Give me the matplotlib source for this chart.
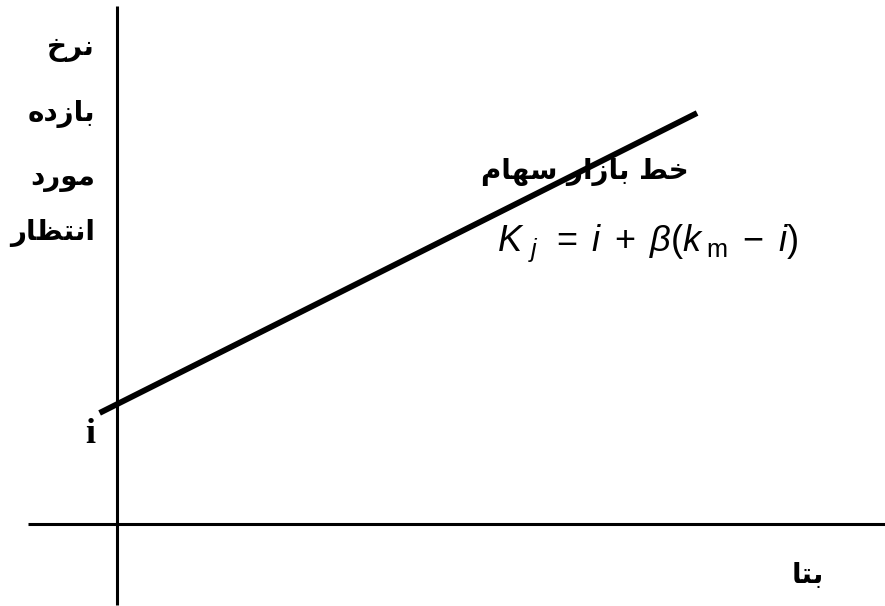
import matplotlib
matplotlib.use("Agg")
import matplotlib.pyplot as plt

# ---- data ----
beta = [-0.03, 1.0]              # beta values of the market line end points
expected_return = [5.58, 20.65]  # expected return at those betas
y_label_lines = ["نرخ", "بازده", "مورد", "انتظار"]
x_label = "بتا"
line_label = "خط بازار سهام"
formula = r"$K_{\;\,j}\;\,=\;i\;+\;\beta(k_{\;\rm m}\;-\;i)$"
intercept_label = "i"

# ---- minimal Arabic/Persian shaping (presentation forms, visual order) ----
FORMS = {  # isolated, final, initial, medial
    "ا": ("\uFE8D", "\uFE8E", None, None),
    "ب": ("\uFE8F", "\uFE90", "\uFE91", "\uFE92"),
    "ت": ("\uFE95", "\uFE96", "\uFE97", "\uFE98"),
    "خ": ("\uFEA5", "\uFEA6", "\uFEA7", "\uFEA8"),
    "د": ("\uFEA9", "\uFEAA", None, None),
    "ر": ("\uFEAD", "\uFEAE", None, None),
    "ز": ("\uFEAF", "\uFEB0", None, None),
    "س": ("\uFEB1", "\uFEB2", "\uFEB3", "\uFEB4"),
    "ط": ("\uFEC1", "\uFEC2", "\uFEC3", "\uFEC4"),
    "ظ": ("\uFEC5", "\uFEC6", "\uFEC7", "\uFEC8"),
    "م": ("\uFEE1", "\uFEE2", "\uFEE3", "\uFEE4"),
    "ن": ("\uFEE5", "\uFEE6", "\uFEE7", "\uFEE8"),
    "ه": ("\uFEE9", "\uFEEA", "\uFEEB", "\uFEEC"),
    "و": ("\uFEED", "\uFEEE", None, None),
}


def shape(text):
    out = []
    chars = list(text)
    for k, c in enumerate(chars):
        if c not in FORMS:
            out.append(c)
            continue
        prev = chars[k - 1] if k > 0 else None
        nxt = chars[k + 1] if k + 1 < len(chars) else None
        join_prev = prev in FORMS and FORMS[prev][2] is not None
        join_next = nxt in FORMS and FORMS[c][2] is not None
        iso, fin, ini, med = FORMS[c]
        if join_prev and join_next:
            out.append(med)
        elif join_prev:
            out.append(fin)
        elif join_next:
            out.append(ini)
        else:
            out.append(iso)
    return "".join(reversed(out))


plt.rcParams["font.family"] = ["DejaVu Sans"]
plt.rcParams["mathtext.fontset"] = "custom"
plt.rcParams["mathtext.it"] = "Liberation Sans:italic"
plt.rcParams["mathtext.rm"] = "Liberation Sans"
plt.rcParams["mathtext.cal"] = "Liberation Sans:italic"

fig = plt.figure(figsize=(8.85, 6.06), dpi=100)
ax = fig.add_axes([0, 0, 1, 1])
ax.set_xlim(-0.2017, 1.324)
ax.set_ylim(-4.12, 26.33)
ax.axis("off")

# axes lines
ax.plot([0, 0], [-4.07, 26.03], color="black", lw=2.2, solid_capstyle="butt")
ax.plot([-0.153, 1.324], [0, 0], color="black", lw=2.2, solid_capstyle="butt")

# security market line
ax.plot(beta, expected_return, color="black", lw=4.2, solid_capstyle="butt")

# y label (stacked)
y_positions = [23.9, 20.6, 17.4, 14.6]
for txt, yy in zip(y_label_lines, y_positions):
    ax.text(-0.038, yy, shape(txt), ha="right", va="center", fontsize=20,
            fontweight="bold")

ax.text(1.19, -2.56, shape(x_label), ha="center", va="center", fontsize=20,
        fontweight="bold")

ax.text(0.985, 17.7, shape(line_label), ha="right", va="center", fontsize=20,
        fontweight="bold")
ax.text(0.655, 14.12, formula, ha="left", va="center", fontsize=26)

ax.text(-0.046, 4.5, intercept_label, ha="center", va="center", fontsize=26,
        fontweight="bold", family="Liberation Serif")

fig.savefig("out.png", dpi=100)
